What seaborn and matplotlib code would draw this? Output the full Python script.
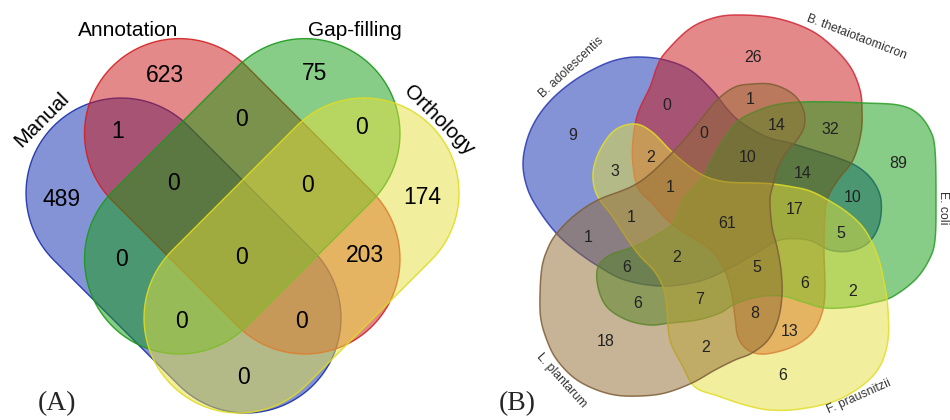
import numpy as np
import matplotlib
matplotlib.use("Agg")
import matplotlib.pyplot as plt
from matplotlib.patches import Polygon
import seaborn as sns

# panel A : four sets
sets_a = ["Manual", "Annotation", "Gap-filling", "Orthology"]
counts_a = [489, 623, 75, 174, 1, 0, 0, 0, 0, 203, 0, 0, 0, 0, 0]

# panel B : five sets
sets_b = ["B. adolescentis", "B. thetaiotaomicron", "E. coli", "F. prausnitzii", "L. plantarum"]
counts_b = [9, 26, 89, 6, 18,
            0, 1, 14, 32, 0,
            2, 3, 10, 14, 1,
            10, 61, 17, 1, 5,
            1, 2, 6, 5, 6,
            2, 6, 7, 8, 13,
            2]

# ---- layout (pixel coordinates, y down) ----
pos_a = [(62, 200), (165, 75), (315, 73), (422, 198), (118, 132),
         (241, 119), (362, 127), (173, 184), (308, 185), (365, 256),
         (121, 260), (241, 257), (181, 322), (301, 321), (243, 377)]
lab_a = [(42, 120, 45), (128, 30, 0), (355, 30, 0), (439, 120, -45)]
caps_a = [((121, 193), (246, 318)), ((179.5, 133.6), (305, 259)),
          ((305, 133.6), (179.5, 259)), ((364, 193), (239, 318))]
fill_a = ["#0b29ad", "#cb1515", "#119b11", "#e5df3d"]
edge_a = ["#1a2fa8", "#d42020", "#1a9a1a", "#e0dc20"]

pos_b = [(573, 135), (753, 57), (898, 164), (783, 375), (606, 341),
         (667, 106), (750, 100), (777, 125), (830, 130), (704, 134),
         (651, 157), (615, 172), (748, 158), (803, 173), (670, 188),
         (853, 197), (727, 223), (795, 210), (631, 217), (841, 233),
         (588, 237), (677, 257), (627, 267), (757, 268), (805, 283),
         (853, 292), (638, 303), (700, 300), (755, 313), (790, 332),
         (706, 347)]
lab_b = [(571, 67, 43), (856, 37, -21), (943, 208, -90), (859, 397, 24), (561, 380, -48)]
shape_b = [
    [(640, 57), (665, 60), (690, 70), (712, 90), (728, 110), (742, 123), (767, 137),
     (790, 143), (813, 150), (838, 158), (858, 167), (873, 181), (881, 200), (879, 225),
     (868, 243), (850, 251), (830, 250), (808, 240), (780, 240), (758, 252), (730, 268),
     (700, 281), (662, 286), (625, 280), (598, 266), (575, 250), (557, 234), (540, 212),
     (528, 190), (523, 165), (527, 140), (537, 118), (553, 98), (575, 80), (600, 66), (620, 59)],
    [(735, 15), (775, 18), (810, 30), (834, 48), (851, 68), (860, 90), (862, 110),
     (861, 133), (853, 160), (838, 180), (828, 197), (825, 215), (824, 250), (825, 290),
     (822, 313), (812, 333), (792, 347), (765, 354), (748, 350), (738, 337), (735, 317),
     (731, 290), (722, 265), (707, 247), (673, 225), (652, 203), (638, 188), (633, 165),
     (633, 140), (638, 113), (650, 87), (657, 67), (665, 53), (688, 30), (710, 19)],
    [(737, 122), (752, 113), (775, 105), (802, 102), (835, 102), (865, 103), (898, 105),
     (917, 113), (930, 130), (935, 150), (936, 200), (935, 240), (929, 260), (915, 280),
     (892, 297), (872, 303), (852, 307), (825, 308), (803, 302), (782, 296), (758, 297),
     (735, 304), (720, 313), (697, 320), (670, 323), (650, 325), (627, 320), (607, 307),
     (598, 287), (598, 267), (610, 255), (633, 247), (653, 237), (673, 223), (683, 200),
     (703, 177), (710, 163), (723, 140)],
    [(593, 173), (600, 150), (615, 130), (635, 124), (652, 132), (672, 152), (690, 167),
     (707, 177), (727, 182), (757, 183), (773, 184), (793, 187), (810, 191), (828, 200),
     (848, 213), (865, 230), (878, 257), (885, 287), (888, 310), (888, 340), (880, 366),
     (863, 385), (835, 401), (800, 409), (770, 410), (745, 405), (718, 396), (695, 387),
     (682, 365), (670, 340), (667, 310), (664, 290), (655, 272), (640, 256), (628, 240),
     (613, 217), (597, 195)],
    [(548, 343), (541, 320), (540, 295), (542, 267), (548, 248), (557, 233), (575, 215),
     (598, 200), (638, 183), (672, 153), (698, 123), (717, 100), (735, 87), (753, 84),
     (770, 84), (785, 89), (797, 98), (804, 112), (804, 127), (797, 140), (788, 150),
     (778, 167), (773, 185), (770, 200), (772, 227), (777, 247), (781, 270), (782, 295),
     (778, 320), (768, 340), (752, 353), (735, 360), (715, 370), (692, 383), (665, 393),
     (640, 396), (615, 395), (592, 388), (573, 377), (557, 360)],
]
fill_b = ["#0b29ad", "#cb1515", "#119b11", "#e5df3d", "#916b31"]
edge_b = ["#2a3ab0", "#d02838", "#2a9e2a", "#e2de28", "#7d5e35"]


def stadium(c1, c2, r, n=60):
    c1, c2 = np.array(c1, float), np.array(c2, float)
    d = c2 - c1
    t0 = np.arctan2(d[1], d[0])
    a2 = np.linspace(t0 - np.pi / 2, t0 + np.pi / 2, n)
    a1 = np.linspace(t0 + np.pi / 2, t0 + 3 * np.pi / 2, n)
    p2 = c2 + r * np.c_[np.cos(a2), np.sin(a2)]
    p1 = c1 + r * np.c_[np.cos(a1), np.sin(a1)]
    return np.vstack([p2, p1])


def smooth(pts, k=14):
    # closed catmull-rom curve through the traced points
    p = np.array(pts, float)
    n = len(p)
    out = []
    t = np.linspace(0, 1, k, endpoint=False)[:, None]
    for i in range(n):
        p0, p1, p2, p3 = p[i - 1], p[i], p[(i + 1) % n], p[(i + 2) % n]
        out.append(0.5 * ((2 * p1) + (-p0 + p2) * t + (2 * p0 - 5 * p1 + 4 * p2 - p3) * t ** 2
                          + (-p0 + 3 * p1 - 3 * p2 + p3) * t ** 3))
    return np.vstack(out)


sns.set_theme(style="white")
plt.rcParams["font.family"] = ["Liberation Sans", "DejaVu Sans"]

fig = plt.figure(figsize=(9.5, 4.2), dpi=100)
ax = fig.add_axes([0, 0, 1, 1])
ax.set_xlim(0, 950)
ax.set_ylim(420, 0)
ax.axis("off")

# panel A
for (c1, c2), fc, ec in zip(caps_a, fill_a, edge_a):
    ax.add_patch(Polygon(stadium(c1, c2, 95), closed=True, facecolor=fc, alpha=0.5,
                         edgecolor="none"))
    ax.add_patch(Polygon(stadium(c1, c2, 95), closed=True, facecolor="none",
                         edgecolor=ec, lw=1.0, alpha=0.9))
for v, (x, y) in zip(counts_a, pos_a):
    ax.text(x, y, str(v), ha="center", va="center", fontsize=16.5, color="black")
for name, (x, y, rot) in zip(sets_a, lab_a):
    ax.text(x, y, name, ha="center", va="center", rotation=rot, fontsize=15, color="black")
ax.text(57, 404, "(A)", ha="center", va="center", fontsize=20,
        family=["Liberation Serif", "DejaVu Serif"])

# panel B
for pts, fc, ec in zip(shape_b, fill_b, edge_b):
    poly = smooth(pts)
    ax.add_patch(Polygon(poly, closed=True, facecolor=fc, alpha=0.5, edgecolor="none"))
    ax.add_patch(Polygon(poly, closed=True, facecolor="none", edgecolor=ec, lw=1.1, alpha=0.85))
for v, (x, y) in zip(counts_b, pos_b):
    ax.text(x, y, str(v), ha="center", va="center", fontsize=11.5, color="#222222")
for name, (x, y, rot) in zip(sets_b, lab_b):
    ax.text(x, y, name, ha="center", va="center", rotation=rot, rotation_mode="anchor",
            fontsize=8.8, color="#333333")
ax.text(517, 404, "(B)", ha="center", va="center", fontsize=20,
        family=["Liberation Serif", "DejaVu Serif"])

fig.savefig("out.png", dpi=100)
